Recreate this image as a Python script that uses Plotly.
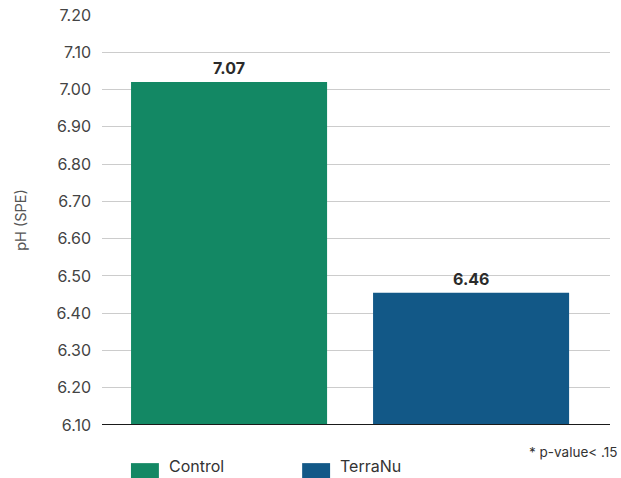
import plotly.graph_objects as go

categories = ["Control", "TerraNu"]
bar_values = [7.02, 6.455]
value_labels = ["7.07", "6.46"]
colors = ["#138864", "#125887"]
y_ticks = [6.10, 6.20, 6.30, 6.40, 6.50, 6.60, 6.70, 6.80, 6.90, 7.00, 7.10, 7.20]
note = "* p-value< .15"

FONT = "Inter, Lato, sans-serif"

fig = go.Figure()
fig.add_trace(go.Bar(
    x=[0, 1], y=bar_values, marker=dict(color=colors, line=dict(width=0)),
    showlegend=False, hoverinfo="skip", width=0.81))

for i, (v, t) in enumerate(zip(bar_values, value_labels)):
    fig.add_annotation(x=i, y=v, text=f"<b>{t}</b>", showarrow=False,
                       yanchor="middle", yshift=14,
                       font=dict(family=FONT, size=16, color="#2b2b2b"))

# legend drawn below the plot
leg_x = [0.057, 0.394]
for i, (c, col) in enumerate(zip(categories, colors)):
    fig.add_shape(type="rect", xref="paper", yref="paper",
                  x0=leg_x[i], x1=leg_x[i] + 0.055, y0=-0.093, y1=-0.14,
                  fillcolor=col, line=dict(width=0))
    fig.add_annotation(xref="paper", yref="paper", x=leg_x[i] + 0.07, y=-0.1,
                       text=c, showarrow=False, xanchor="left", yanchor="middle",
                       font=dict(family=FONT, size=16, color="#333333"))

fig.add_annotation(xref="paper", yref="paper", x=1.018, y=-0.065, text=note,
                   showarrow=False, xanchor="right", yanchor="middle",
                   font=dict(family=FONT, size=13.5, color="#333333"))

fig.update_layout(
    width=621, height=478,
    margin=dict(l=102, r=11, t=15, b=53, autoexpand=False),
    paper_bgcolor="white", plot_bgcolor="white",
    font=dict(family=FONT, color="#444444"),
    xaxis=dict(range=[-0.525, 1.574], showticklabels=False, showgrid=False,
               zeroline=False, showline=False, fixedrange=True),
    yaxis=dict(range=[6.10, 7.20], tickvals=y_ticks, tickformat=".2f",
               showgrid=True, gridcolor="#cccccc", gridwidth=1,
               zeroline=False, showline=False, automargin=False,
               ticklabelstandoff=10,
               tickfont=dict(family=FONT, size=16, color="#444444"),
               title=dict(text="pH (SPE)", standoff=26,
                          font=dict(family=FONT, size=14.5, color="#555555"))),
)
# baseline at the bottom of the axis
fig.add_shape(type="line", xref="paper", yref="y", x0=0, x1=1, y0=y_ticks[0], y1=y_ticks[0],
              line=dict(color="#1a1a1a", width=2))

fig.write_html("out.html")
